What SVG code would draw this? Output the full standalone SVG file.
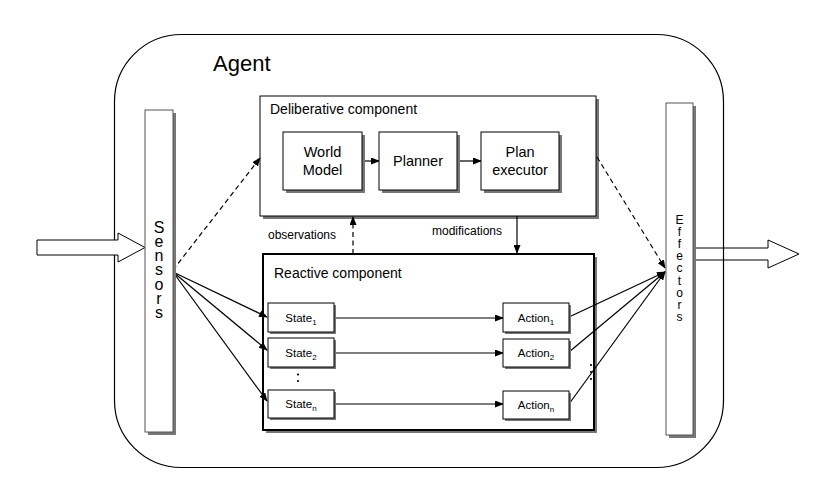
<svg xmlns="http://www.w3.org/2000/svg" width="822" height="488" viewBox="0 0 822 488">
<defs>
<marker id="ah" markerWidth="9" markerHeight="7" refX="8" refY="3.5" orient="auto" markerUnits="userSpaceOnUse">
<path d="M0,0 L9,3.5 L0,7 z" fill="#000"/>
</marker>
<style>
.t{font-family:"Liberation Sans",Arial,sans-serif;fill:#000}
.box{fill:#fff;stroke:#000;stroke-width:1}
.sh{fill:#777}
.ln{fill:none;stroke:#000;stroke-width:1.2}
.dash{stroke-dasharray:5,3.5}
</style>
</defs>
<rect x="0" y="0" width="822" height="488" fill="#fff"/>
<g id="agent">
<rect x="114.5" y="34.5" width="609" height="433" rx="67" ry="67" fill="none" stroke="#000" stroke-width="1.2"/>
<text class="t" x="213" y="71" font-size="22">Agent</text>
</g>
<g id="input-arrow">
<polygon points="37,240 118,240 118,233 145,247.5 118,262 118,255 37,255" fill="#fff" stroke="#000" stroke-width="1"/>
</g>
<g id="output-arrow">
<polygon points="693,248 768,248 768,240 799,254 768,268 768,260 693,260" fill="none" stroke="#000" stroke-width="1"/>
</g>
<g id="deliberative">
<rect class="sh" x="263" y="99" width="336" height="120"/>
<rect class="box" x="260" y="96" width="336" height="120"/>
<text class="t" x="270" y="114" font-size="14">Deliberative component</text>
</g>
<g id="reactive">
<rect class="sh" x="266" y="257" width="331" height="176"/>
<rect x="263" y="254" width="331" height="176" fill="#fff" stroke="#000" stroke-width="2"/>
<text class="t" x="274" y="278" font-size="14">Reactive component</text>
<g fill="#000"><circle cx="298" cy="368" r="1.1"/><circle cx="298" cy="374.5" r="1.1"/><circle cx="298" cy="381" r="1.1"/>
<circle cx="591" cy="365" r="1.1"/><circle cx="591" cy="372" r="1.1"/><circle cx="591" cy="379" r="1.1"/></g>
</g>
<g id="connectors">
<path class="ln dash" d="M173,270 L260,158" marker-end="url(#ah)"/>
<path class="ln dash" d="M597,157 L665,268" marker-end="url(#ah)"/>
<path class="ln dash" d="M353,254 L353,217" marker-end="url(#ah)"/>
<path class="ln" d="M517,216 L517,253" marker-end="url(#ah)"/>
<path class="ln" d="M362,161 L379,161" marker-end="url(#ah)"/>
<path class="ln" d="M457,161 L481,161" marker-end="url(#ah)"/>
<path class="ln" d="M173,272 L267,317" marker-end="url(#ah)"/>
<path class="ln" d="M173,272 L267,350" marker-end="url(#ah)"/>
<path class="ln" d="M173,272 L267,401" marker-end="url(#ah)"/>
<path class="ln" d="M334,318 L503,318" marker-end="url(#ah)"/>
<path class="ln" d="M334,353 L503,353" marker-end="url(#ah)"/>
<path class="ln" d="M334,404 L503,404" marker-end="url(#ah)"/>
<path class="ln" d="M569,317 L665,272" marker-end="url(#ah)"/>
<path class="ln" d="M569,352 L665,272" marker-end="url(#ah)"/>
<path class="ln" d="M569,404 L665,272" marker-end="url(#ah)"/>
<text class="t" x="268" y="239" font-size="12">observations</text>
<text class="t" x="432" y="235" font-size="12">modifications</text>
</g>
<g id="sensors">
<rect class="sh" x="148" y="113" width="28" height="322"/>
<rect x="145" y="110" width="28" height="322" fill="#fff" stroke="#555" stroke-width="1"/>
<text class="t" font-size="16" text-anchor="middle"><tspan x="159" y="233">S</tspan><tspan x="159" y="247">e</tspan><tspan x="159" y="261">n</tspan><tspan x="159" y="275">s</tspan><tspan x="159" y="290">o</tspan><tspan x="159" y="304">r</tspan><tspan x="159" y="318">s</tspan></text>
</g>
<g id="effectors">
<rect class="sh" x="669" y="106" width="27" height="332"/>
<rect x="666" y="103" width="27" height="332" fill="#fff" stroke="#555" stroke-width="1"/>
<text class="t" font-size="12" text-anchor="middle"><tspan x="679.5" y="224">E</tspan><tspan x="679.5" y="236">f</tspan><tspan x="679.5" y="248">f</tspan><tspan x="679.5" y="260">e</tspan><tspan x="679.5" y="272">c</tspan><tspan x="679.5" y="285">t</tspan><tspan x="679.5" y="297">o</tspan><tspan x="679.5" y="309">r</tspan><tspan x="679.5" y="321">s</tspan></text>
</g>
<g id="world-model">
<rect class="sh" x="286" y="135" width="79" height="58"/>
<rect class="box" x="283" y="132" width="79" height="58"/>
<text class="t" x="322.5" y="157" font-size="14.5" text-anchor="middle">World</text>
<text class="t" x="322.5" y="175" font-size="14.5" text-anchor="middle">Model</text>
</g>
<g id="planner">
<rect class="sh" x="382" y="135" width="78" height="58"/>
<rect class="box" x="379" y="132" width="78" height="58"/>
<text class="t" x="418" y="166" font-size="14.5" text-anchor="middle">Planner</text>
</g>
<g id="plan-executor">
<rect class="sh" x="484" y="135" width="78" height="58"/>
<rect class="box" x="481" y="132" width="78" height="58"/>
<text class="t" x="520" y="157" font-size="14.5" text-anchor="middle">Plan</text>
<text class="t" x="520" y="175" font-size="14.5" text-anchor="middle">executor</text>
</g>
<g id="state1">
<rect class="sh" x="270" y="305" width="66" height="29"/>
<rect class="box" x="268" y="303" width="66" height="29"/>
<text class="t" x="301" y="322" font-size="11.5" text-anchor="middle">State<tspan font-size="8" dy="3">1</tspan></text>
</g>
<g id="state2">
<rect class="sh" x="270" y="340" width="66" height="29"/>
<rect class="box" x="268" y="338" width="66" height="29"/>
<text class="t" x="301" y="357" font-size="11.5" text-anchor="middle">State<tspan font-size="8" dy="3">2</tspan></text>
</g>
<g id="staten">
<rect class="sh" x="270" y="392" width="66" height="28"/>
<rect class="box" x="268" y="390" width="66" height="28"/>
<text class="t" x="301" y="408" font-size="11.5" text-anchor="middle">State<tspan font-size="8" dy="3">n</tspan></text>
</g>
<g id="action1">
<rect class="sh" x="505" y="305" width="66" height="29"/>
<rect class="box" x="503" y="303" width="66" height="29"/>
<text class="t" x="536" y="322" font-size="11.5" text-anchor="middle">Action<tspan font-size="8" dy="3">1</tspan></text>
</g>
<g id="action2">
<rect class="sh" x="505" y="341" width="66" height="28"/>
<rect class="box" x="503" y="339" width="66" height="28"/>
<text class="t" x="536" y="357" font-size="11.5" text-anchor="middle">Action<tspan font-size="8" dy="3">2</tspan></text>
</g>
<g id="actionn">
<rect class="sh" x="505" y="393" width="66" height="28"/>
<rect class="box" x="503" y="391" width="66" height="28"/>
<text class="t" x="536" y="409" font-size="11.5" text-anchor="middle">Action<tspan font-size="8" dy="3">n</tspan></text>
</g>
</svg>
